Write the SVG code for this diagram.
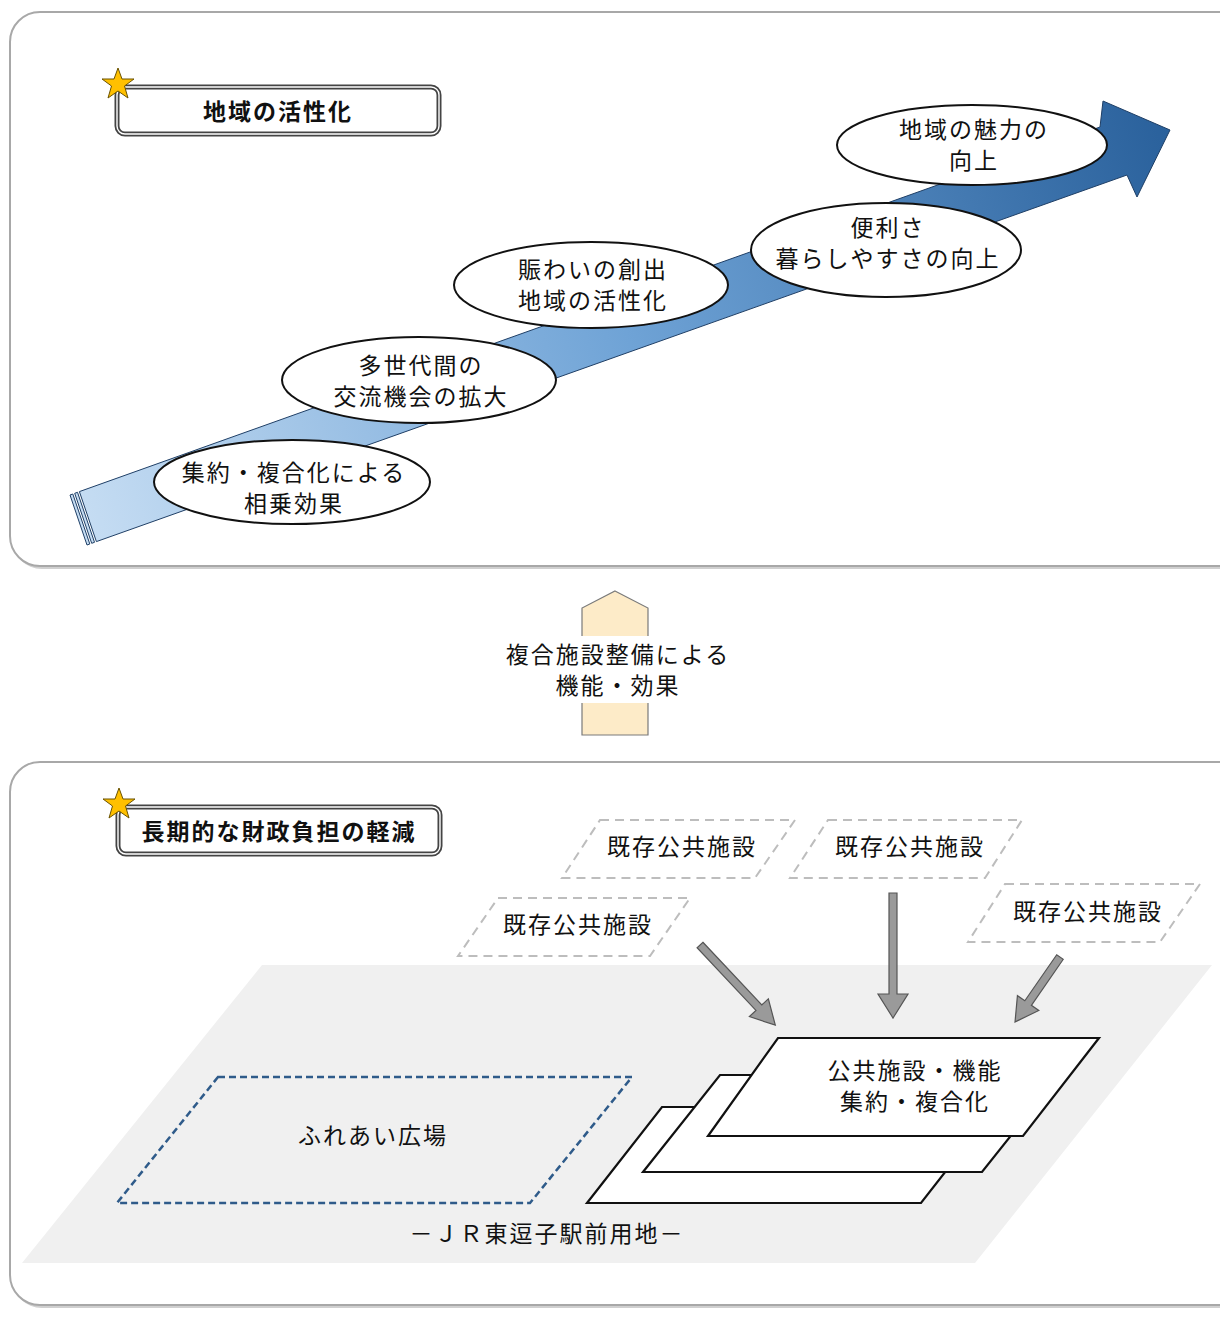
<svg xmlns="http://www.w3.org/2000/svg" width="1220" height="1327" viewBox="0 0 1220 1327">
<style>
.t{font-family:"Noto Sans CJK JP","Noto Sans",sans-serif;font-size:23px;fill:#111;text-anchor:middle;letter-spacing:2px}
.b{font-weight:bold}
.panel{fill:#fff;stroke:#a8a8a8;stroke-width:2}
.shadow{fill:#d0d0d0}
.ell{fill:#fff;stroke:#111;stroke-width:2}
.exist{fill:none;stroke:#bdbdbd;stroke-width:2;stroke-dasharray:9 6}
.sheet{fill:#fff;stroke:#111;stroke-width:2.2}
.garrow{fill:#9a9a9a;stroke:#555;stroke-width:1.2}
.star{fill:#ffc000;stroke:#6b5300;stroke-width:1}
</style>
<defs>
<linearGradient id="blueg" gradientUnits="userSpaceOnUse" x1="80" y1="520" x2="1170" y2="140">
<stop offset="0" stop-color="#c6ddf3"/>
<stop offset="0.5" stop-color="#6fa3d6"/>
<stop offset="1" stop-color="#2a619c"/>
</linearGradient>
</defs>

<!-- panels -->
<rect class="shadow" x="12" y="15" width="1240" height="554" rx="30"/>
<rect class="panel" x="10" y="12" width="1240" height="554" rx="30"/>
<rect class="shadow" x="12" y="765" width="1240" height="543" rx="30"/>
<rect class="panel" x="10" y="762" width="1240" height="543" rx="30"/>

<!-- title 1 -->
<g id="title1">
<rect x="117" y="87" width="322" height="47" rx="8" fill="#fff" stroke="#444" stroke-width="5"/>
<rect x="117" y="87" width="322" height="47" rx="8" fill="none" stroke="#fff" stroke-width="1.4"/>
<polygon class="star" points="118,68 122,79 134,79 124.5,86 128,98 118,91 108,98 111.5,86 102,79 114,79"/>
<text class="t b" x="278" y="120">地域の活性化</text>
</g>

<!-- big arrow -->
<g id="bigarrow">
<polygon points="70,495 72.8,494 89.8,544 87,545" fill="#c6ddf3" stroke="#1f3f66" stroke-width="1"/>
<polygon points="74.7,493.3 77.5,492.3 94.5,542.3 91.7,543.3" fill="#c6ddf3" stroke="#1f3f66" stroke-width="1"/>
<polygon points="79.4,491.6 1100,127 1103,101 1170,130 1137,197 1127,175 96.4,541.6" fill="url(#blueg)" stroke="#1f3f66" stroke-width="1"/>
</g>

<g id="e1"><ellipse class="ell" cx="292" cy="482" rx="138" ry="42"/>
<text class="t" x="294" y="481">集約・複合化による<tspan x="294" dy="31">相乗効果</tspan></text></g>
<g id="e2"><ellipse class="ell" cx="419" cy="380" rx="137" ry="43"/>
<text class="t" x="421" y="374">多世代間の<tspan x="421" dy="31">交流機会の拡大</tspan></text></g>
<g id="e3"><ellipse class="ell" cx="591" cy="285" rx="137" ry="43"/>
<text class="t" x="593" y="278">賑わいの創出<tspan x="593" dy="31">地域の活性化</tspan></text></g>
<g id="e4"><ellipse class="ell" cx="886" cy="250" rx="135" ry="47"/>
<text class="t" x="888" y="236">便利さ<tspan x="888" dy="31">暮らしやすさの向上</tspan></text></g>
<g id="e5"><ellipse class="ell" cx="972" cy="145" rx="135" ry="40"/>
<text class="t" x="974" y="138">地域の魅力の<tspan x="974" dy="31">向上</tspan></text></g>

<!-- middle arrow -->
<g id="midarrow">
<polygon points="615,591 648,608 648,735 582,735 582,608" fill="#fdebc8" stroke="#7a7a7a" stroke-width="1.2"/>
<rect x="495" y="636" width="245" height="67" fill="#fff"/>
<text class="t" x="618" y="663">複合施設整備による<tspan x="618" dy="31">機能・効果</tspan></text>
</g>

<!-- title 2 -->
<g id="title2">
<rect x="118" y="807" width="322" height="47" rx="8" fill="#fff" stroke="#444" stroke-width="5"/>
<rect x="118" y="807" width="322" height="47" rx="8" fill="none" stroke="#fff" stroke-width="1.4"/>
<polygon class="star" points="119,788 123,799 135,799 125.5,806 129,818 119,811 109,818 112.5,806 103,799 115,799"/>
<text class="t b" x="279" y="840">長期的な財政負担の軽減</text>
</g>

<!-- ground -->
<g id="ground">
<polygon points="262,965 1212,965 975,1263 22,1263" fill="#f0f0f0"/>
<text class="t" x="547" y="1242">－ＪＲ東逗子駅前用地－</text>
</g>

<g id="plaza">
<polygon points="218,1077 632,1077 530,1203 117,1203" fill="none" stroke="#2f5b8a" stroke-width="2.5" stroke-dasharray="7 4"/>
<text class="t" x="373" y="1144">ふれあい広場</text>
</g>

<g id="sheets">
<polygon class="sheet" points="662,1107 996,1107 921,1203 587,1203"/>
<polygon class="sheet" points="720,1075 1059,1075 982,1172 643,1172"/>
<polygon class="sheet" points="778,1038 1099,1038 1023,1136 708,1136"/>
<text class="t" x="915" y="1079">公共施設・機能<tspan x="915" dy="31">集約・複合化</tspan></text>
</g>

<g id="exist1"><polygon class="exist" points="600,820 795,820 755,878 562,878"/><text class="t" x="682" y="855">既存公共施設</text></g>
<g id="exist2"><polygon class="exist" points="828,820 1022,820 985,878 790,878"/><text class="t" x="910" y="855">既存公共施設</text></g>
<g id="exist3"><polygon class="exist" points="498,898 690,898 650,956 458,956"/><text class="t" x="578" y="933">既存公共施設</text></g>
<g id="exist4"><polygon class="exist" points="1005,884 1200,884 1160,942 968,942"/><text class="t" x="1088" y="920">既存公共施設</text></g>

<!-- connectors -->
<g id="connectors">
<polygon class="garrow" transform="translate(700,945) rotate(46.8)" points="0,-4 86,-4 86,-13 110,0 86,13 86,4 0,4"/>
<polygon class="garrow" transform="translate(893,893) rotate(90)" points="0,-4 101,-4 101,-15 125,0 101,15 101,4 0,4"/>
<polygon class="garrow" transform="translate(1060,957) rotate(124.7)" points="0,-4 56,-4 56,-13 79,0 56,13 56,4 0,4"/>
</g>
</svg>
